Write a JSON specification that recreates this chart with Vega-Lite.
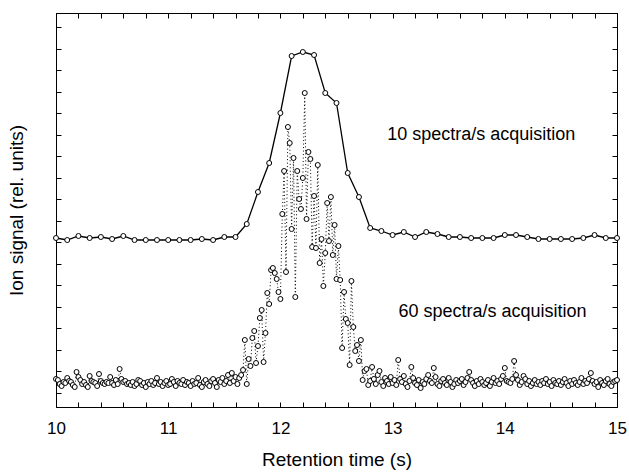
{
  "$schema": "https://vega.github.io/schema/vega-lite/v6.json",
  "width": 561,
  "height": 394,
  "autosize": "none",
  "padding": {"left": 56, "top": 13, "right": 12, "bottom": 65},
  "background": "white",
  "config": {
    "view": {"stroke": "black", "strokeWidth": 1},
    "axis": {
      "grid": false,
      "domainColor": "black",
      "tickColor": "black",
      "labelColor": "black",
      "titleColor": "black",
      "labelFont": "Liberation Sans",
      "titleFont": "Liberation Sans",
      "labelFontSize": 17,
      "titleFontSize": 19,
      "titleFontWeight": "normal"
    }
  },
  "datasets": {
    "s10": [
      {"t": 10.0, "v": 155}, {"t": 10.1, "v": 153}, {"t": 10.2, "v": 157}, {"t": 10.3, "v": 155}, {"t": 10.4, "v": 156},
      {"t": 10.5, "v": 154}, {"t": 10.6, "v": 157}, {"t": 10.7, "v": 153}, {"t": 10.8, "v": 153}, {"t": 10.9, "v": 153},
      {"t": 11.0, "v": 153}, {"t": 11.1, "v": 153}, {"t": 11.2, "v": 153}, {"t": 11.3, "v": 154}, {"t": 11.4, "v": 153},
      {"t": 11.5, "v": 156}, {"t": 11.6, "v": 156}, {"t": 11.7, "v": 169}, {"t": 11.8, "v": 201}, {"t": 11.9, "v": 230},
      {"t": 12.0, "v": 280}, {"t": 12.1, "v": 337}, {"t": 12.2, "v": 341}, {"t": 12.3, "v": 338}, {"t": 12.4, "v": 300},
      {"t": 12.5, "v": 290}, {"t": 12.6, "v": 220}, {"t": 12.7, "v": 196}, {"t": 12.8, "v": 165}, {"t": 12.9, "v": 162},
      {"t": 13.0, "v": 158}, {"t": 13.1, "v": 161}, {"t": 13.2, "v": 156}, {"t": 13.3, "v": 161}, {"t": 13.4, "v": 159},
      {"t": 13.5, "v": 156}, {"t": 13.6, "v": 156}, {"t": 13.7, "v": 155}, {"t": 13.8, "v": 155}, {"t": 13.9, "v": 155},
      {"t": 14.0, "v": 158}, {"t": 14.1, "v": 158}, {"t": 14.2, "v": 156}, {"t": 14.3, "v": 154}, {"t": 14.4, "v": 154},
      {"t": 14.5, "v": 154}, {"t": 14.6, "v": 154}, {"t": 14.7, "v": 155}, {"t": 14.8, "v": 158}, {"t": 14.9, "v": 155},
      {"t": 15.0, "v": 155}
    ],
    "s60": [
      {"t": 10.0, "v": 14}, {"t": 10.017, "v": 13}, {"t": 10.033, "v": 9}, {"t": 10.05, "v": 7}, {"t": 10.067, "v": 11},
      {"t": 10.083, "v": 10}, {"t": 10.1, "v": 15}, {"t": 10.117, "v": 12}, {"t": 10.133, "v": 11}, {"t": 10.15, "v": 8},
      {"t": 10.167, "v": 6}, {"t": 10.183, "v": 21}, {"t": 10.2, "v": 16}, {"t": 10.217, "v": 13}, {"t": 10.233, "v": 9},
      {"t": 10.25, "v": 11}, {"t": 10.267, "v": 8}, {"t": 10.283, "v": 6}, {"t": 10.3, "v": 17}, {"t": 10.317, "v": 12},
      {"t": 10.333, "v": 11}, {"t": 10.35, "v": 10}, {"t": 10.367, "v": 7}, {"t": 10.383, "v": 19}, {"t": 10.4, "v": 12},
      {"t": 10.417, "v": 10}, {"t": 10.433, "v": 9}, {"t": 10.45, "v": 11}, {"t": 10.467, "v": 10}, {"t": 10.483, "v": 16},
      {"t": 10.5, "v": 10}, {"t": 10.517, "v": 8}, {"t": 10.533, "v": 13}, {"t": 10.55, "v": 9}, {"t": 10.567, "v": 24},
      {"t": 10.583, "v": 14}, {"t": 10.6, "v": 11}, {"t": 10.617, "v": 12}, {"t": 10.633, "v": 9}, {"t": 10.65, "v": 10},
      {"t": 10.667, "v": 8}, {"t": 10.683, "v": 11}, {"t": 10.7, "v": 7}, {"t": 10.717, "v": 9}, {"t": 10.733, "v": 13},
      {"t": 10.75, "v": 12}, {"t": 10.767, "v": 8}, {"t": 10.783, "v": 10}, {"t": 10.8, "v": 6}, {"t": 10.817, "v": 11},
      {"t": 10.833, "v": 9}, {"t": 10.85, "v": 12}, {"t": 10.867, "v": 8}, {"t": 10.883, "v": 10}, {"t": 10.9, "v": 15},
      {"t": 10.917, "v": 9}, {"t": 10.933, "v": 11}, {"t": 10.95, "v": 7}, {"t": 10.967, "v": 10}, {"t": 10.983, "v": 12},
      {"t": 11.0, "v": 8}, {"t": 11.017, "v": 9}, {"t": 11.033, "v": 14}, {"t": 11.05, "v": 11}, {"t": 11.067, "v": 7},
      {"t": 11.083, "v": 12}, {"t": 11.1, "v": 10}, {"t": 11.117, "v": 9}, {"t": 11.133, "v": 13}, {"t": 11.15, "v": 8},
      {"t": 11.167, "v": 11}, {"t": 11.183, "v": 10}, {"t": 11.2, "v": 7}, {"t": 11.217, "v": 12}, {"t": 11.233, "v": 9},
      {"t": 11.25, "v": 10}, {"t": 11.267, "v": 15}, {"t": 11.283, "v": 8}, {"t": 11.3, "v": 6}, {"t": 11.317, "v": 11},
      {"t": 11.333, "v": 13}, {"t": 11.35, "v": 9}, {"t": 11.367, "v": 7}, {"t": 11.383, "v": 12}, {"t": 11.4, "v": 14},
      {"t": 11.417, "v": 10}, {"t": 11.433, "v": 6}, {"t": 11.45, "v": 13}, {"t": 11.467, "v": 11}, {"t": 11.483, "v": 15},
      {"t": 11.5, "v": 9}, {"t": 11.517, "v": 12}, {"t": 11.533, "v": 18}, {"t": 11.55, "v": 10}, {"t": 11.567, "v": 20},
      {"t": 11.583, "v": 12}, {"t": 11.6, "v": 16}, {"t": 11.617, "v": 9}, {"t": 11.633, "v": 15}, {"t": 11.65, "v": 18},
      {"t": 11.667, "v": 23}, {"t": 11.683, "v": 53}, {"t": 11.7, "v": 9}, {"t": 11.717, "v": 34}, {"t": 11.733, "v": 27},
      {"t": 11.75, "v": 55}, {"t": 11.767, "v": 62}, {"t": 11.783, "v": 30}, {"t": 11.8, "v": 47}, {"t": 11.817, "v": 75},
      {"t": 11.833, "v": 83}, {"t": 11.85, "v": 31}, {"t": 11.867, "v": 60}, {"t": 11.883, "v": 100}, {"t": 11.9, "v": 89},
      {"t": 11.917, "v": 123}, {"t": 11.933, "v": 125}, {"t": 11.95, "v": 120}, {"t": 11.967, "v": 114}, {"t": 11.983, "v": 101},
      {"t": 12.0, "v": 94}, {"t": 12.017, "v": 179}, {"t": 12.033, "v": 222}, {"t": 12.05, "v": 121}, {"t": 12.067, "v": 266},
      {"t": 12.083, "v": 250}, {"t": 12.1, "v": 164}, {"t": 12.117, "v": 235}, {"t": 12.133, "v": 96}, {"t": 12.15, "v": 222},
      {"t": 12.167, "v": 194}, {"t": 12.183, "v": 184}, {"t": 12.2, "v": 215}, {"t": 12.217, "v": 300}, {"t": 12.233, "v": 174},
      {"t": 12.25, "v": 241}, {"t": 12.267, "v": 234}, {"t": 12.283, "v": 146}, {"t": 12.3, "v": 197}, {"t": 12.317, "v": 145},
      {"t": 12.333, "v": 228}, {"t": 12.35, "v": 130}, {"t": 12.367, "v": 154}, {"t": 12.383, "v": 107}, {"t": 12.4, "v": 140},
      {"t": 12.417, "v": 190}, {"t": 12.433, "v": 152}, {"t": 12.45, "v": 196}, {"t": 12.467, "v": 138}, {"t": 12.483, "v": 168},
      {"t": 12.5, "v": 114}, {"t": 12.517, "v": 147}, {"t": 12.533, "v": 113}, {"t": 12.55, "v": 45}, {"t": 12.567, "v": 101},
      {"t": 12.583, "v": 74}, {"t": 12.6, "v": 70}, {"t": 12.617, "v": 28}, {"t": 12.633, "v": 112}, {"t": 12.65, "v": 66},
      {"t": 12.667, "v": 42}, {"t": 12.683, "v": 48}, {"t": 12.7, "v": 32}, {"t": 12.717, "v": 53}, {"t": 12.733, "v": 13},
      {"t": 12.75, "v": 22}, {"t": 12.767, "v": 24}, {"t": 12.783, "v": 8}, {"t": 12.8, "v": 12}, {"t": 12.817, "v": 26},
      {"t": 12.833, "v": 14}, {"t": 12.85, "v": 9}, {"t": 12.867, "v": 18}, {"t": 12.883, "v": 22}, {"t": 12.9, "v": 11},
      {"t": 12.917, "v": 7}, {"t": 12.933, "v": 15}, {"t": 12.95, "v": 12}, {"t": 12.967, "v": 9}, {"t": 12.983, "v": 16},
      {"t": 13.0, "v": 10}, {"t": 13.017, "v": 13}, {"t": 13.033, "v": 8}, {"t": 13.05, "v": 33}, {"t": 13.067, "v": 14},
      {"t": 13.083, "v": 11}, {"t": 13.1, "v": 17}, {"t": 13.117, "v": 9}, {"t": 13.133, "v": 6}, {"t": 13.15, "v": 12},
      {"t": 13.167, "v": 26}, {"t": 13.183, "v": 15}, {"t": 13.2, "v": 10}, {"t": 13.217, "v": 8}, {"t": 13.233, "v": 13},
      {"t": 13.25, "v": 5}, {"t": 13.267, "v": 11}, {"t": 13.283, "v": 9}, {"t": 13.3, "v": 14}, {"t": 13.317, "v": 18},
      {"t": 13.333, "v": 12}, {"t": 13.35, "v": 10}, {"t": 13.367, "v": 25}, {"t": 13.383, "v": 16}, {"t": 13.4, "v": 9},
      {"t": 13.417, "v": 7}, {"t": 13.433, "v": 12}, {"t": 13.45, "v": 14}, {"t": 13.467, "v": 10}, {"t": 13.483, "v": 8},
      {"t": 13.5, "v": 15}, {"t": 13.517, "v": 11}, {"t": 13.533, "v": 6}, {"t": 13.55, "v": 9}, {"t": 13.567, "v": 13},
      {"t": 13.583, "v": 10}, {"t": 13.6, "v": 12}, {"t": 13.617, "v": 14}, {"t": 13.633, "v": 8}, {"t": 13.65, "v": 11},
      {"t": 13.667, "v": 15}, {"t": 13.683, "v": 21}, {"t": 13.7, "v": 13}, {"t": 13.717, "v": 10}, {"t": 13.733, "v": 7},
      {"t": 13.75, "v": 12}, {"t": 13.767, "v": 9}, {"t": 13.783, "v": 14}, {"t": 13.8, "v": 11}, {"t": 13.817, "v": 8},
      {"t": 13.833, "v": 10}, {"t": 13.85, "v": 13}, {"t": 13.867, "v": 7}, {"t": 13.883, "v": 11}, {"t": 13.9, "v": 15},
      {"t": 13.917, "v": 10}, {"t": 13.933, "v": 12}, {"t": 13.95, "v": 9}, {"t": 13.967, "v": 14}, {"t": 13.983, "v": 17},
      {"t": 14.0, "v": 25}, {"t": 14.017, "v": 12}, {"t": 14.033, "v": 11}, {"t": 14.05, "v": 10}, {"t": 14.067, "v": 14},
      {"t": 14.083, "v": 32}, {"t": 14.1, "v": 18}, {"t": 14.117, "v": 13}, {"t": 14.133, "v": 8}, {"t": 14.15, "v": 11},
      {"t": 14.167, "v": 17}, {"t": 14.183, "v": 14}, {"t": 14.2, "v": 9}, {"t": 14.217, "v": 12}, {"t": 14.233, "v": 7},
      {"t": 14.25, "v": 10}, {"t": 14.267, "v": 13}, {"t": 14.283, "v": 9}, {"t": 14.3, "v": 11}, {"t": 14.317, "v": 8},
      {"t": 14.333, "v": 12}, {"t": 14.35, "v": 10}, {"t": 14.367, "v": 14}, {"t": 14.383, "v": 9}, {"t": 14.4, "v": 11},
      {"t": 14.417, "v": 7}, {"t": 14.433, "v": 13}, {"t": 14.45, "v": 10}, {"t": 14.467, "v": 9}, {"t": 14.483, "v": 12},
      {"t": 14.5, "v": 8}, {"t": 14.517, "v": 11}, {"t": 14.533, "v": 14}, {"t": 14.55, "v": 10}, {"t": 14.567, "v": 7},
      {"t": 14.583, "v": 12}, {"t": 14.6, "v": 9}, {"t": 14.617, "v": 13}, {"t": 14.633, "v": 10}, {"t": 14.65, "v": 8},
      {"t": 14.667, "v": 11}, {"t": 14.683, "v": 15}, {"t": 14.7, "v": 9}, {"t": 14.717, "v": 12}, {"t": 14.733, "v": 10},
      {"t": 14.75, "v": 14}, {"t": 14.767, "v": 20}, {"t": 14.783, "v": 12}, {"t": 14.8, "v": 9}, {"t": 14.817, "v": 11},
      {"t": 14.833, "v": 6}, {"t": 14.85, "v": 13}, {"t": 14.867, "v": 10}, {"t": 14.883, "v": 8}, {"t": 14.9, "v": 12},
      {"t": 14.917, "v": 14}, {"t": 14.933, "v": 9}, {"t": 14.95, "v": 7}, {"t": 14.967, "v": 11}, {"t": 14.983, "v": 12},
      {"t": 15.0, "v": 13}
    ],
    "notes": [
      {"t": 13.79, "v": 253, "label": "10 spectra/s acquisition"},
      {"t": 13.89, "v": 76, "label": "60 spectra/s acquisition"}
    ]
  },
  "resolve": {"axis": {"x": "independent", "y": "independent"}},
  "layer": [
    {
      "data": {"name": "s10"},
      "mark": {"type": "line", "color": "black", "strokeWidth": 1.3},
      "encoding": {
        "x": {
          "field": "t", "type": "quantitative",
          "scale": {"domain": [10, 15], "nice": false, "zero": false},
          "axis": {
            "orient": "bottom",
            "title": "Retention time (s)",
            "values": [10, 10.2, 10.4, 10.6, 10.8, 11, 11.2, 11.4, 11.6, 11.8, 12, 12.2, 12.4, 12.6, 12.8, 13, 13.2, 13.4, 13.6, 13.8, 14, 14.2, 14.4, 14.6, 14.8, 15],
            "labelExpr": "datum.value % 1 === 0 ? format(datum.value, 'd') : ''",
            "tickSize": -5,
            "labelPadding": 18,
            "titlePadding": 14,
            "labelFlush": false,
            "labelOverlap": false
          }
        },
        "y": {
          "field": "v", "type": "quantitative",
          "scale": {"domain": [-14, 380], "nice": false, "zero": false},
          "axis": {
            "orient": "left",
            "title": "Ion signal (rel. units)",
            "values": [0, 21.53, 43.06, 64.59, 86.12, 107.65, 129.18, 150.71, 172.24, 193.77, 215.3, 236.83, 258.36, 279.89, 301.42, 322.95, 344.48, 366.01],
            "labels": false,
            "tickSize": -5,
            "titlePadding": 29
          }
        }
      }
    },
    {
      "data": {"name": "s60"},
      "mark": {"type": "line", "color": "black", "strokeWidth": 1, "strokeDash": [1, 2.5]},
      "encoding": {
        "x": {
          "field": "t", "type": "quantitative",
          "scale": {"domain": [10, 15], "nice": false, "zero": false},
          "axis": {
            "orient": "top",
            "title": null,
            "labels": false,
            "values": [10, 10.2, 10.4, 10.6, 10.8, 11, 11.2, 11.4, 11.6, 11.8, 12, 12.2, 12.4, 12.6, 12.8, 13, 13.2, 13.4, 13.6, 13.8, 14, 14.2, 14.4, 14.6, 14.8, 15],
            "tickSize": -5
          }
        },
        "y": {
          "field": "v", "type": "quantitative",
          "scale": {"domain": [-14, 380], "nice": false, "zero": false},
          "axis": {
            "orient": "right",
            "title": null,
            "labels": false,
            "values": [0, 21.53, 43.06, 64.59, 86.12, 107.65, 129.18, 150.71, 172.24, 193.77, 215.3, 236.83, 258.36, 279.89, 301.42, 322.95, 344.48, 366.01],
            "tickSize": -5
          }
        }
      }
    },
    {
      "data": {"name": "s60"},
      "mark": {"type": "point", "shape": "circle", "filled": true, "fill": "white", "stroke": "black", "strokeWidth": 1, "size": 25, "opacity": 1},
      "encoding": {
        "x": {"field": "t", "type": "quantitative", "axis": null},
        "y": {"field": "v", "type": "quantitative", "axis": null}
      }
    },
    {
      "data": {"name": "s10"},
      "mark": {"type": "point", "shape": "circle", "filled": true, "fill": "white", "stroke": "black", "strokeWidth": 1, "size": 25, "opacity": 1},
      "encoding": {
        "x": {"field": "t", "type": "quantitative", "axis": null},
        "y": {"field": "v", "type": "quantitative", "axis": null}
      }
    },
    {
      "data": {"name": "notes"},
      "mark": {"type": "text", "font": "Liberation Sans", "fontSize": 18, "align": "center", "baseline": "alphabetic", "color": "black"},
      "encoding": {
        "x": {"field": "t", "type": "quantitative", "axis": null},
        "y": {"field": "v", "type": "quantitative", "axis": null},
        "text": {"field": "label"}
      }
    }
  ]
}
